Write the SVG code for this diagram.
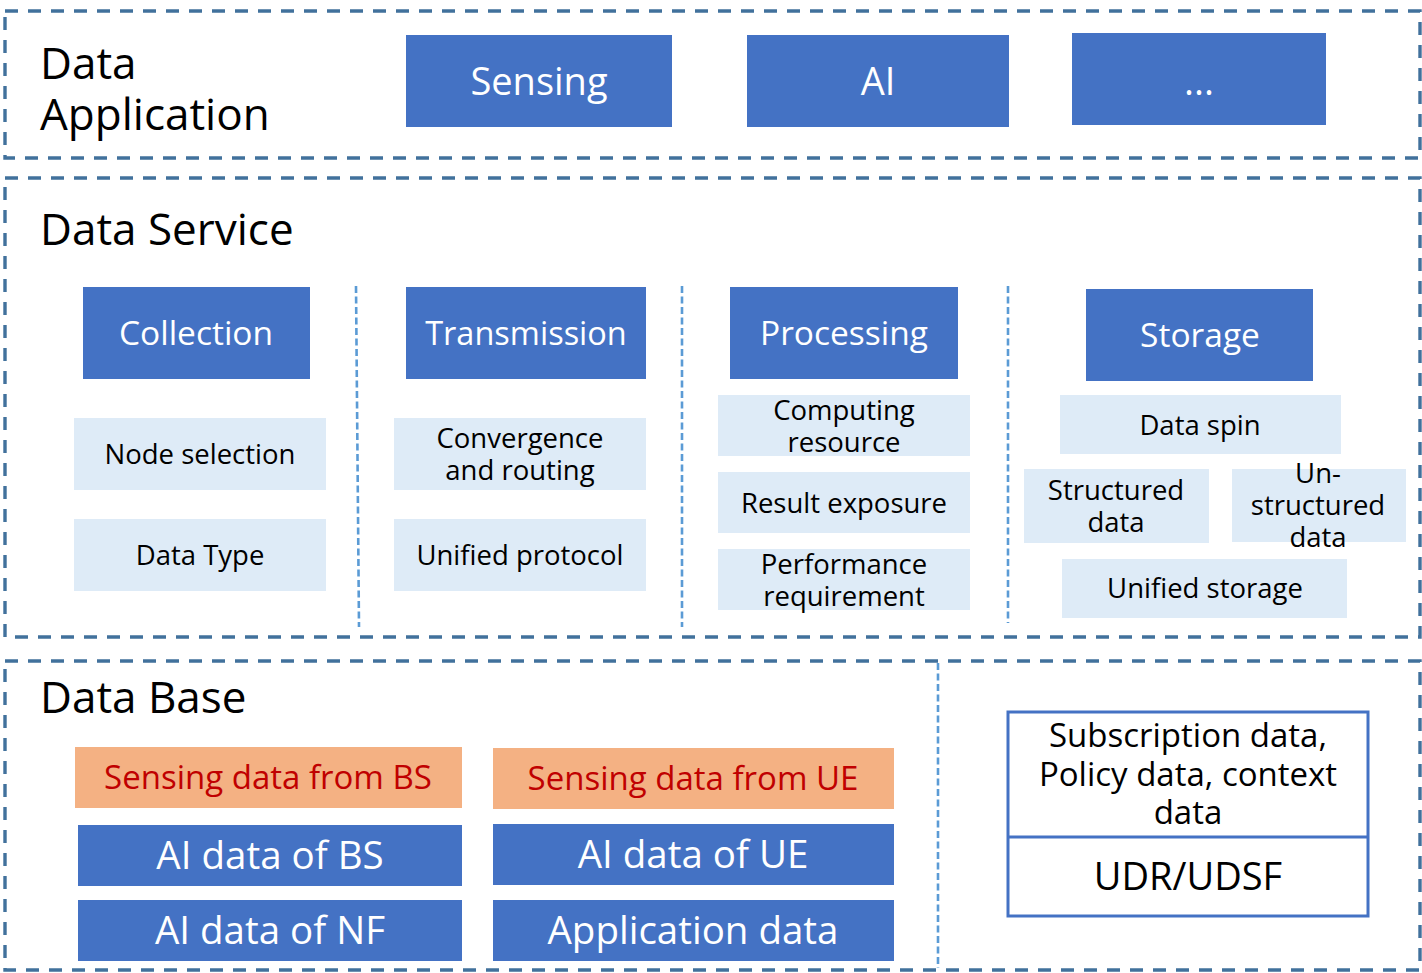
<svg xmlns="http://www.w3.org/2000/svg" width="1422" height="973" viewBox="0 0 1422 973">
  <style>
    text { font-family: "Open Sans", "Noto Sans", "DejaVu Sans", sans-serif; text-anchor: middle; }
    .layer { fill: none; stroke: #41719C; stroke-width: 3.4; stroke-dasharray: 13 10; }
    .divider { fill: none; stroke: #5B9BD5; stroke-width: 2.6; stroke-dasharray: 7 3.5; }
    .title { fill: #000; font-size: 44px; text-anchor: start; }
    .main { fill: #4472C4; }
    .main-t { fill: #fff; font-size: 38px; }
    .head-t { fill: #fff; font-size: 33.5px; }
    .sub { fill: #DEEBF7; }
    .sub-t { fill: #000; font-size: 27.5px; }
    .sense { fill: #F4B183; }
    .sense-t { fill: #C00000; font-size: 33px; }
    .base-t { fill: #fff; font-size: 38.5px; }
    .udr { fill: #fff; stroke: #4472C4; stroke-width: 3; }
    .udr-t { fill: #000; font-size: 33px; }
  </style>

  <!-- layer frames and column dividers -->
  <g id="frames">
    <rect class="layer" x="5" y="11" width="1415" height="147"/>
    <rect class="layer" x="5" y="178" width="1415" height="459"/>
    <rect class="layer" x="5" y="661" width="1415" height="309"/>
    <line class="divider" x1="356" y1="286" x2="359" y2="627"/>
    <line class="divider" x1="682" y1="286" x2="682" y2="627"/>
    <line class="divider" x1="1008" y1="286" x2="1008" y2="623"/>
    <line class="divider" x1="938" y1="663" x2="938" y2="968"/>
  </g>

  <!-- layer titles -->
  <g id="titles">
    <text class="title" x="40" y="79">Data</text>
    <text class="title" x="40" y="130">Application</text>
    <text class="title" x="40" y="245">Data Service</text>
    <text class="title" x="40" y="713">Data Base</text>
  </g>

  <!-- Data Application -->
  <g id="app-sensing">
    <rect class="main" x="406" y="35" width="266" height="92"/>
    <text class="main-t" x="539" y="95">Sensing</text>
  </g>
  <g id="app-ai">
    <rect class="main" x="747" y="35" width="262" height="92"/>
    <text class="main-t" x="878" y="95">AI</text>
  </g>
  <g id="app-more">
    <rect class="main" x="1072" y="33" width="254" height="92"/>
    <text class="main-t" x="1199" y="95">...</text>
  </g>

  <!-- Data Service: Collection -->
  <g id="svc-collection">
    <rect class="main" x="83" y="287" width="227" height="92"/>
    <text class="head-t" x="196" y="345">Collection</text>
  </g>
  <g id="svc-node-selection">
    <rect class="sub" x="74" y="418" width="252" height="72"/>
    <text class="sub-t" x="200" y="464">Node selection</text>
  </g>
  <g id="svc-data-type">
    <rect class="sub" x="74" y="519" width="252" height="72"/>
    <text class="sub-t" x="200" y="565">Data Type</text>
  </g>

  <!-- Data Service: Transmission -->
  <g id="svc-transmission">
    <rect class="main" x="406" y="287" width="240" height="92"/>
    <text class="head-t" style="font-size:32.5px" x="526" y="345">Transmission</text>
  </g>
  <g id="svc-convergence">
    <rect class="sub" x="394" y="418" width="252" height="72"/>
    <text class="sub-t" x="520" y="448">Convergence</text>
    <text class="sub-t" x="520" y="480">and routing</text>
  </g>
  <g id="svc-protocol">
    <rect class="sub" x="394" y="519" width="252" height="72"/>
    <text class="sub-t" x="520" y="565">Unified protocol</text>
  </g>

  <!-- Data Service: Processing -->
  <g id="svc-processing">
    <rect class="main" x="730" y="287" width="228" height="92"/>
    <text class="head-t" x="844" y="345">Processing</text>
  </g>
  <g id="svc-computing">
    <rect class="sub" x="718" y="395" width="252" height="61"/>
    <text class="sub-t" x="844" y="420">Computing</text>
    <text class="sub-t" x="844" y="452">resource</text>
  </g>
  <g id="svc-exposure">
    <rect class="sub" x="718" y="472" width="252" height="61"/>
    <text class="sub-t" x="844" y="513">Result exposure</text>
  </g>
  <g id="svc-performance">
    <rect class="sub" x="718" y="549" width="252" height="61"/>
    <text class="sub-t" x="844" y="574">Performance</text>
    <text class="sub-t" x="844" y="606">requirement</text>
  </g>

  <!-- Data Service: Storage -->
  <g id="svc-storage">
    <rect class="main" x="1086" y="289" width="227" height="92"/>
    <text class="head-t" x="1200" y="347">Storage</text>
  </g>
  <g id="svc-data-spin">
    <rect class="sub" x="1060" y="395" width="281" height="59"/>
    <text class="sub-t" x="1200" y="435">Data spin</text>
  </g>
  <g id="svc-structured">
    <rect class="sub" x="1024" y="469" width="185" height="74"/>
    <text class="sub-t" x="1116" y="500">Structured</text>
    <text class="sub-t" x="1116" y="532">data</text>
  </g>
  <g id="svc-unstructured">
    <rect class="sub" x="1232" y="469" width="174" height="73"/>
    <text class="sub-t" x="1318" y="483">Un-</text>
    <text class="sub-t" x="1318" y="515">structured</text>
    <text class="sub-t" x="1318" y="547">data</text>
  </g>
  <g id="svc-unified-storage">
    <rect class="sub" x="1062" y="559" width="285" height="59"/>
    <text class="sub-t" x="1205" y="598">Unified storage</text>
  </g>

  <!-- Data Base -->
  <g id="db-sensing-bs">
    <rect class="sense" x="75" y="747" width="387" height="61"/>
    <text class="sense-t" x="268" y="789">Sensing data from BS</text>
  </g>
  <g id="db-sensing-ue">
    <rect class="sense" x="493" y="748" width="401" height="61"/>
    <text class="sense-t" x="693" y="790">Sensing data from UE</text>
  </g>
  <g id="db-ai-bs">
    <rect class="main" x="78" y="825" width="384" height="61"/>
    <text class="base-t" x="270" y="869">AI data of BS</text>
  </g>
  <g id="db-ai-ue">
    <rect class="main" x="493" y="824" width="401" height="61"/>
    <text class="base-t" x="693" y="868">AI data of UE</text>
  </g>
  <g id="db-ai-nf">
    <rect class="main" x="78" y="900" width="384" height="61"/>
    <text class="base-t" x="270" y="944">AI data of NF</text>
  </g>
  <g id="db-application">
    <rect class="main" x="493" y="900" width="401" height="61"/>
    <text class="base-t" x="693" y="944">Application data</text>
  </g>

  <!-- core network data repository -->
  <g id="db-udr">
    <rect class="udr" x="1008" y="712" width="360" height="204"/>
    <line x1="1008" y1="837" x2="1368" y2="837" stroke="#4472C4" stroke-width="3"/>
    <text class="udr-t" x="1188" y="747">Subscription data,</text>
    <text class="udr-t" x="1188" y="786">Policy data, context</text>
    <text class="udr-t" x="1188" y="824">data</text>
    <text class="udr-t" style="font-size:38px" x="1188" y="890">UDR/UDSF</text>
  </g>
</svg>
